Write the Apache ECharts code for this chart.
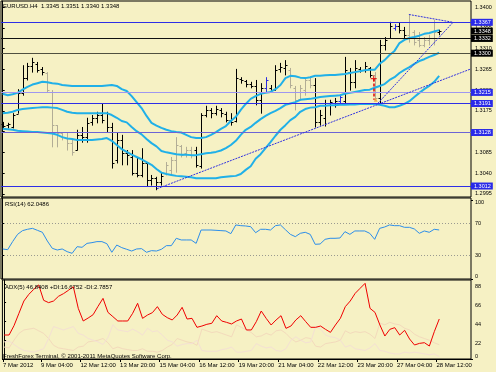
<!DOCTYPE html>
<html><head><meta charset="utf-8">
<script src="https://cdn.jsdelivr.net/npm/echarts@6/dist/echarts.min.js"></script>
<style>html,body{margin:0;padding:0;background:#F6F1C4}#c{width:496px;height:372px}</style>
</head><body><div id="c"></div>
<script>
const symbolName = 'EURUSD.H4';
const open  = [1.3147,1.3144,1.3140,1.3168,1.3214,1.3246,1.3272,1.3277,1.3266,1.3257,1.3216,1.3144,1.3127,1.3116,1.3105,1.3090,1.3123,1.3118,1.3151,1.3160,1.3166,1.3170,1.3140,1.3068,1.3112,1.3084,1.3075,1.3040,1.3036,1.3062,1.3025,1.3029,1.3021,1.3040,1.3047,1.3068,1.3098,1.3084,1.3090,1.3090,1.3055,1.3166,1.3177,1.3170,1.3177,1.3168,1.3155,1.3153,1.3244,1.3240,1.3233,1.3229,1.3199,1.3225,1.3225,1.3220,1.3266,1.3268,1.3264,1.3225,1.3201,1.3220,1.3242,1.3231,1.3151,1.3160,1.3188,1.3192,1.3196,1.3196,1.3259,1.3238,1.3266,1.3264,1.3268,1.3253,1.3203,1.3318,1.3333,1.3355,1.3359,1.3350,1.3340,1.3346,1.3329,1.3318,1.3329,1.3333,1.3345];
const high  = [1.3151,1.3149,1.3170,1.3222,1.3274,1.3279,1.3290,1.3281,1.3270,1.3259,1.3220,1.3144,1.3129,1.3127,1.3112,1.3134,1.3140,1.3160,1.3166,1.3173,1.3192,1.3173,1.3149,1.3127,1.3123,1.3090,1.3090,1.3075,1.3094,1.3062,1.3036,1.3032,1.3040,1.3064,1.3075,1.3118,1.3101,1.3097,1.3097,1.3097,1.3170,1.3186,1.3181,1.3186,1.3181,1.3173,1.3170,1.3266,1.3248,1.3242,1.3238,1.3242,1.3235,1.3248,1.3231,1.3274,1.3279,1.3285,1.3268,1.3229,1.3231,1.3248,1.3248,1.3246,1.3177,1.3199,1.3199,1.3203,1.3209,1.3292,1.3268,1.3285,1.3270,1.3281,1.3270,1.3259,1.3329,1.3335,1.3368,1.3363,1.3366,1.3357,1.3383,1.3350,1.3346,1.3335,1.3340,1.3372,1.3351];
const low   = [1.3138,1.3138,1.3138,1.3170,1.3209,1.3242,1.3259,1.3259,1.3253,1.3216,1.3097,1.3097,1.3112,1.3090,1.3079,1.3090,1.3107,1.3107,1.3144,1.3149,1.3149,1.3129,1.3051,1.3062,1.3058,1.3058,1.3036,1.3032,1.3032,1.3012,1.3014,1.3004,1.3014,1.3036,1.3036,1.3042,1.3075,1.3075,1.3073,1.3053,1.3051,1.3162,1.3160,1.3166,1.3162,1.3151,1.3144,1.3151,1.3235,1.3227,1.3225,1.3188,1.3170,1.3216,1.3216,1.3220,1.3259,1.3253,1.3225,1.3177,1.3199,1.3209,1.3225,1.3140,1.3144,1.3142,1.3166,1.3183,1.3192,1.3192,1.3220,1.3225,1.3259,1.3259,1.3248,1.3199,1.3192,1.3307,1.3333,1.3350,1.3344,1.3329,1.3324,1.3318,1.3314,1.3314,1.3318,1.3318,1.3340];
const close = [1.3142,1.3147,1.3166,1.3214,1.3246,1.3272,1.3281,1.3264,1.3259,1.3220,1.3144,1.3127,1.3118,1.3105,1.3086,1.3123,1.3118,1.3149,1.3160,1.3166,1.3155,1.3140,1.3062,1.3112,1.3084,1.3079,1.3040,1.3036,1.3062,1.3025,1.3029,1.3021,1.3034,1.3058,1.3068,1.3101,1.3079,1.3090,1.3079,1.3058,1.3166,1.3177,1.3170,1.3179,1.3170,1.3155,1.3151,1.3246,1.3242,1.3233,1.3229,1.3199,1.3225,1.3242,1.3220,1.3264,1.3270,1.3274,1.3231,1.3199,1.3225,1.3242,1.3231,1.3151,1.3166,1.3188,1.3194,1.3196,1.3205,1.3264,1.3238,1.3268,1.3264,1.3272,1.3253,1.3203,1.3318,1.3329,1.3359,1.3359,1.3350,1.3340,1.3333,1.3324,1.3318,1.3329,1.3333,1.3346,1.3348];
// 0 = dark bar, 1 = grey bar, 2 = blue bar
const barTone = [0,0,0,0,0,0,0,0,0,1,1,1,1,1,1,0,0,0,0,0,0,0,0,0,0,0,0,0,0,0,0,0,0,1,1,1,1,1,1,0,0,0,0,0,0,0,0,0,0,0,0,0,0,2,0,0,0,0,1,1,1,1,1,0,0,0,0,0,2,0,0,0,0,0,0,1,0,0,0,2,0,0,1,1,1,1,1,1,0];
const bbUpper = [1.3212,1.3209,1.3211,1.3214,1.3221,1.3227,1.3232,1.3235,1.3238,1.3237,1.3235,1.3234,1.3231,1.3230,1.3229,1.3229,1.3229,1.3229,1.3229,1.3229,1.3229,1.3230,1.3231,1.3229,1.3222,1.3218,1.3207,1.3194,1.3181,1.3164,1.3149,1.3143,1.3138,1.3134,1.3131,1.3129,1.3128,1.3123,1.3118,1.3116,1.3116,1.3118,1.3123,1.3129,1.3136,1.3142,1.3153,1.3162,1.3177,1.3190,1.3201,1.3207,1.3212,1.3214,1.3216,1.3222,1.3231,1.3246,1.3251,1.3250,1.3247,1.3246,1.3248,1.3251,1.3251,1.3252,1.3253,1.3253,1.3254,1.3255,1.3257,1.3259,1.3261,1.3263,1.3264,1.3264,1.3277,1.3285,1.3296,1.3305,1.3322,1.3329,1.3333,1.3335,1.3338,1.3342,1.3344,1.3347,1.3350];
const bbMiddle = [1.3170,1.3171,1.3173,1.3177,1.3179,1.3180,1.3181,1.3182,1.3183,1.3183,1.3182,1.3181,1.3177,1.3173,1.3171,1.3170,1.3170,1.3170,1.3170,1.3170,1.3170,1.3170,1.3166,1.3160,1.3153,1.3150,1.3140,1.3131,1.3124,1.3114,1.3105,1.3098,1.3088,1.3085,1.3083,1.3081,1.3080,1.3080,1.3079,1.3079,1.3081,1.3083,1.3084,1.3086,1.3089,1.3094,1.3101,1.3110,1.3123,1.3134,1.3140,1.3149,1.3157,1.3164,1.3170,1.3175,1.3181,1.3188,1.3191,1.3194,1.3199,1.3200,1.3201,1.3203,1.3205,1.3206,1.3207,1.3208,1.3209,1.3212,1.3214,1.3216,1.3218,1.3220,1.3221,1.3225,1.3229,1.3233,1.3242,1.3248,1.3257,1.3264,1.3270,1.3277,1.3283,1.3287,1.3292,1.3296,1.3301];
const bbLower = [1.3136,1.3135,1.3134,1.3132,1.3131,1.3130,1.3129,1.3129,1.3128,1.3127,1.3126,1.3123,1.3118,1.3115,1.3114,1.3112,1.3112,1.3112,1.3112,1.3113,1.3114,1.3116,1.3110,1.3101,1.3092,1.3086,1.3080,1.3075,1.3070,1.3064,1.3058,1.3049,1.3041,1.3038,1.3036,1.3034,1.3033,1.3032,1.3031,1.3029,1.3029,1.3029,1.3029,1.3029,1.3031,1.3032,1.3033,1.3034,1.3038,1.3047,1.3055,1.3071,1.3081,1.3094,1.3107,1.3121,1.3134,1.3144,1.3155,1.3162,1.3173,1.3179,1.3182,1.3183,1.3186,1.3186,1.3187,1.3187,1.3188,1.3188,1.3189,1.3189,1.3190,1.3190,1.3190,1.3190,1.3188,1.3186,1.3183,1.3183,1.3186,1.3190,1.3196,1.3205,1.3214,1.3222,1.3229,1.3238,1.3251];
const rsi = [38.0,37.1,47.3,56.5,61.2,62.9,64.1,61.6,59.1,48.1,38.8,36.7,38.0,34.6,32.5,40.9,40.1,45.1,46.0,47.3,47.3,44.7,33.8,43.0,39.7,37.6,35.4,38.0,38.4,33.8,35.9,35.4,37.6,42.2,42.2,51.5,49.4,49.4,49.4,45.1,62.0,62.0,62.0,61.6,61.2,60.8,57.4,68.4,67.5,67.1,66.2,58.6,62.9,62.9,62.0,67.5,68.4,62.4,56.5,53.6,57.8,59.1,56.5,43.9,44.3,50.2,51.5,51.5,51.9,59.9,56.5,60.8,60.8,60.8,57.8,50.2,64.1,65.8,68.4,67.5,67.5,65.4,65.4,63.3,57.8,60.8,59.1,62.9,62.0486];
const adx = [28.1,28.1,39.0,53.5,67.9,75.7,81.6,86.7,68.7,66.0,67.9,73.4,76.5,80.4,84.7,59.3,44.5,48.0,51.9,61.7,71.0,54.6,49.6,44.5,44.5,44.5,53.5,65.2,47.6,51.5,54.3,61.3,52.3,48.4,45.7,51.5,60.5,46.8,47.6,37.1,38.6,40.6,41.8,50.7,44.5,42.9,41.0,44.5,46.8,34.0,34.0,43.7,56.2,47.6,39.8,45.7,50.7,35.9,38.6,45.7,50.7,43.7,37.1,37.1,38.6,34.7,31.2,39.8,47.6,61.3,67.9,76.9,82.8,88.6,59.3,54.6,39.8,26.9,34.7,36.7,28.1,33.6,23.4,16.4,18.3,19.1,15.2,32.0,46.8408];
const plusDI = [14,13,22,30,34,35,36,33,30,24,16,13,12,11,10,14,15,20,21,22,24,19,12,14,12,11,10,10,12,9,9,8,10,14,17,24,22,20,19,16,35,33,31,32,30,28,26,40,37,34,31,26,27,30,28,33,34,30,24,20,22,25,24,15,14,18,19,20,22,33,30,32,31,32,29,24,42,40,43,41,40,36,34,29,26,24,22,19,16.6752];
const minusDI = [20,21,17,13,10,9,8,10,12,24,38,36,34,36,38,30,28,24,22,20,17,25,40,34,33,32,35,32,28,36,32,33,28,22,20,15,17,18,18,22,10,9,9,9,11,12,14,8,8,9,10,18,15,13,14,10,9,12,22,26,22,19,20,38,35,28,26,25,22,14,16,12,11,10,13,18,10,9,7,6,6,8,7,8,7,6,5,6,2.7857];
const priceTicks = [1.2995,1.3040,1.3085,1.3130,1.3175,1.3220,1.3265,1.3310,1.3355,1.3400];
const rsiTicks = [70,30];
const adxTicks = [22,44,66,88];
const dateLabels = ['7 Mar 2012','9 Mar 04:00','12 Mar 12:00','13 Mar 20:00','15 Mar 04:00','16 Mar 12:00','19 Mar 20:00','21 Mar 04:00','22 Mar 12:00','23 Mar 20:00','27 Mar 04:00','28 Mar 12:00'];
const dateBars = [0,7,15,23,31,39,47,55,63,71,79,87];
const levels = [1.3367,1.3332,1.3300,1.3215,1.3191,1.3128,1.3012];
const levelKind = ['blue','black','dark','lilac','blue','violet','blue'];
// trend lines: [bar1, price1, bar2, price2]
const trendLines = [[31.1,1.3006,94.42,1.3266],[75.7,1.3192,90.8,1.3367],[81.9,1.3384,90.8,1.3367]];
const tradeMark = [74.8,1.3245,1.3199];

const FONT = 'Liberation Sans';
const xMin = -0.343, xMax = 94.42;
const toneColor = ['#000000','#B2AD96','#2C2CE0'];
const kindStyle = {
  blue:  {line:'#2E2EE6', width:1.2, box:'#2A2AE8'},
  black: {line:'#111111', width:1, box:'#000000'},
  dark:  {line:'#505040', width:1, box:'#000000'},
  lilac: {line:'#9E96F0', width:1, box:'#2A2AE8'},
  violet:{line:'#6C64D6', width:1, box:'#2A2AE8'}
};
const idx = a => a.map((v,i)=>[i,v]);
const last = a => a[a.length-1];
const ohlc = close.map((c,i)=>[i, open[i], high[i], low[i], c, barTone[i]]);
const dateTickVals = dateBars.map((b,k)=> k===0 ? xMin+0.12 : b+0.45);

const chart = echarts.init(document.getElementById('c'), null, {renderer:'canvas'});

const boxLabel = (bg) => ({show:true, position:'end', distance:0, formatter:p=>Number(p.value).toFixed(4), color:'#fff',
  backgroundColor:bg, padding:[1,2,0,3], fontSize:5.5, fontFamily:FONT, opacity:1});
const levelLines = levels.map((v,k)=>{
  const s = kindStyle[levelKind[k]];
  return {yAxis:v, lineStyle:{color:s.line, width:s.width, type:'solid'}, label:boxLabel(s.box)};
});
levelLines.push({yAxis:last(close), lineStyle:{color:'rgba(0,0,0,0)', width:1}, label:boxLabel('#000000')});
const trendData = trendLines.map(t=>[{coord:[t[0],t[1]]},{coord:[t[2],t[3]]}]);

const hiddenX = g => ({type:'value', gridIndex:g, min:xMin, max:xMax, axisLine:{show:false}, axisTick:{show:false}, axisLabel:{show:false}, splitLine:{show:false}});
const yLab = (g, min, max, vals, va, showLine, fmt) => ({
  type:'value', gridIndex:g, position:'right', min, max,
  axisLine:{show:showLine, lineStyle:{color:'#000'}},
  axisTick:{show:true, customValues:vals, length:2, lineStyle:{color:'#000'}},
  axisLabel:{customValues:vals, color:'#000', fontSize:5.5, fontFamily:FONT, margin:4, verticalAlign:va, formatter:fmt || (v=>String(v))},
  splitLine:{show:false}
});

chart.setOption({
  animation:false,
  backgroundColor:'#F6F1C4',
  textStyle:{fontFamily:FONT},
  grid:[
    {left:1, width:470, top:1, height:196, show:true, borderColor:'#000', borderWidth:1, backgroundColor:'transparent'},
    {left:1, width:470, top:198, height:81, show:true, borderColor:'#000', borderWidth:1, backgroundColor:'transparent'},
    {left:1, width:470, top:280, height:79, show:true, borderColor:'#000', borderWidth:1, backgroundColor:'transparent'}
  ],
  xAxis:[hiddenX(0), hiddenX(1), {
    type:'value', gridIndex:2, min:xMin, max:xMax,
    axisLine:{show:true, lineStyle:{color:'#000'}},
    axisTick:{show:true, customValues:dateTickVals, length:3, lineStyle:{color:'#000'}},
    axisLabel:{customValues:dateTickVals, align:'left', color:'#000', fontSize:6, fontFamily:FONT, margin:3,
      formatter:v=>{let b=0,d=1e9;dateTickVals.forEach((t,k)=>{if(Math.abs(t-v)<d){d=Math.abs(t-v);b=k;}});return dateLabels[b];}},
    splitLine:{show:false}
  }],
  yAxis:[
    yLab(0, 1.29882, 1.34132, priceTicks, 'middle', true, v=>v.toFixed(4)),
    yLab(1, 0, 102.5, rsiTicks, 'middle', true),
    yLab(1, 0, 102.5, [100], 'top', false),
    yLab(1, 0, 102.5, [0], 'bottom', false),
    yLab(2, 0, 92.5, adxTicks, 'top', true),
    yLab(2, 0, 92.5, [0], 'bottom', false)
  ],
  graphic:[
    {type:'text', left:3, top:3, z:100, style:{text:symbolName+'  '+[last(open),last(high),last(low),last(close)].map(v=>v.toFixed(4)).join(' '), fontSize:6, fontFamily:FONT, fill:'#000'}},
    {type:'text', left:5, top:201, z:100, style:{text:'RSI(14) '+last(rsi).toFixed(4), fontSize:6, fontFamily:FONT, fill:'#000'}},
    {type:'text', left:5, top:284, z:100, style:{text:'ADX(5) '+last(adx).toFixed(4)+' +DI:'+last(plusDI).toFixed(4)+' -DI:'+last(minusDI).toFixed(4), fontSize:6, fontFamily:FONT, fill:'#000'}},
    {type:'text', left:3, top:353, z:100, style:{text:'FreshForex Terminal, \u00a9 2001-2011 MetaQuotes Software Corp.', fontSize:6, fontFamily:FONT, fill:'#000'}}
  ],
  series:[
    {type:'line', name:'levels', xAxisIndex:0, yAxisIndex:0, data:[], z:2,
      markLine:{silent:true, precision:4, symbol:['none','none'], animation:false, data:levelLines}},
    {type:'custom', name:'bars', xAxisIndex:0, yAxisIndex:0, clip:true, z:3,
      encode:{x:0, y:[1,2,3,4]}, data:ohlc,
      renderItem:(params, api)=>{
        const i=api.value(0);
        const ph=api.coord([i,api.value(2)]), pl=api.coord([i,api.value(3)]);
        const po=api.coord([i,api.value(1)]), pc=api.coord([i,api.value(4)]);
        const col=toneColor[api.value(5)];
        const x=Math.round(ph[0])+0.5;
        const st={stroke:col, lineWidth:1};
        return {type:'group', children:[
          {type:'line', shape:{x1:x,y1:ph[1],x2:x,y2:pl[1]+0.5}, style:st},
          {type:'line', shape:{x1:x-2,y1:Math.round(po[1])+0.5,x2:x,y2:Math.round(po[1])+0.5}, style:st},
          {type:'line', shape:{x1:x,y1:Math.round(pc[1])+0.5,x2:x+2,y2:Math.round(pc[1])+0.5}, style:st}
        ]};
      }},
    {type:'line', name:'bbUpper', xAxisIndex:0, yAxisIndex:0, data:idx(bbUpper), showSymbol:false, z:4,
      lineStyle:{color:'#20B0E8', width:2}},
    {type:'line', name:'bbMiddle', xAxisIndex:0, yAxisIndex:0, data:idx(bbMiddle), showSymbol:false, z:4,
      lineStyle:{color:'#20B0E8', width:2}},
    {type:'line', name:'bbLower', xAxisIndex:0, yAxisIndex:0, data:idx(bbLower), showSymbol:false, z:4,
      lineStyle:{color:'#20B0E8', width:2}},
    {type:'line', name:'trend', xAxisIndex:0, yAxisIndex:0, data:[], z:5,
      markLine:{silent:true, precision:4, symbol:['none','none'], animation:false, label:{show:false},
        lineStyle:{color:'#3030E0', width:1, type:[2,1]}, data:trendData}},
    {type:'scatter', name:'trade', xAxisIndex:0, yAxisIndex:0, z:6,
      data:[{value:[tradeMark[0],tradeMark[1]], symbol:'path://M2,0h1v2h2v1h-2v2h-1v-2h-2v-1h2z', symbolSize:6, itemStyle:{color:'#E00000'}},
            {value:[tradeMark[0]+0.4,tradeMark[2]], symbol:'triangle', symbolSize:4, itemStyle:{color:'#F0A030'}}],
      markLine:{silent:true, precision:4, symbol:['none','none'], animation:false, label:{show:false},
        lineStyle:{color:'#E00000', width:1.5, type:[3,2]},
        data:[[{coord:[tradeMark[0],tradeMark[1]]},{coord:[tradeMark[0],tradeMark[2]]}]]}},
    {type:'line', name:'rsi', xAxisIndex:1, yAxisIndex:1, data:idx(rsi), showSymbol:false,
      lineStyle:{color:'#2C8EEA', width:1},
      markLine:{silent:true, symbol:['none','none'], animation:false, label:{show:false},
        lineStyle:{color:'#9A9A90', width:1, type:[1,2]}, data:rsiTicks.map(v=>({yAxis:v}))}},
    {type:'line', name:'+DI', xAxisIndex:2, yAxisIndex:4, data:idx(plusDI), showSymbol:false,
      lineStyle:{color:'#F3DABC', width:1}},
    {type:'line', name:'-DI', xAxisIndex:2, yAxisIndex:4, data:idx(minusDI), showSymbol:false,
      lineStyle:{color:'#F4E0D4', width:1}},
    {type:'line', name:'adx', xAxisIndex:2, yAxisIndex:4, data:idx(adx), showSymbol:false,
      lineStyle:{color:'#F00000', width:1}}
  ]
});
</script></body></html>
